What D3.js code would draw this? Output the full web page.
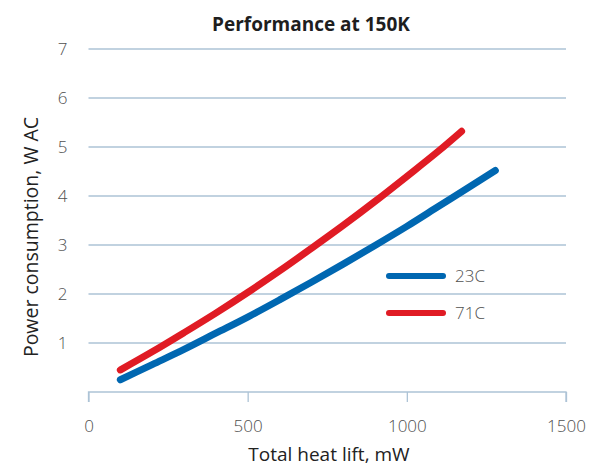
<!DOCTYPE html>
<html><head><meta charset="utf-8">
<script src="https://cdn.jsdelivr.net/npm/d3@7"></script>
<style>body{margin:0;background:#fff}svg{display:block}</style>
</head><body>
<svg id="c" width="611" height="466"></svg>
<script>
const title = "Performance at 150K";
const xLabel = "Total heat lift, mW";
const yLabel = "Power consumption, W AC";
const xTicks = [0, 500, 1000, 1500];
const yTicks = [1, 2, 3, 4, 5, 6, 7];
const seriesNames = ["23C", "71C"];
const heat23 = [100, 200, 300, 400, 500, 600, 700, 800, 900, 1000, 1100, 1200, 1278];
const power23 = [0.25, 0.56, 0.87, 1.20, 1.53, 1.88, 2.24, 2.61, 2.99, 3.38, 3.79, 4.20, 4.52];
const heat71 = [100, 200, 300, 400, 500, 600, 700, 800, 900, 1000, 1100, 1172];
const power71 = [0.45, 0.82, 1.21, 1.61, 2.03, 2.47, 2.93, 3.40, 3.89, 4.40, 4.92, 5.32];
const colors = ["#0067b1", "#e01b24"];

const svg = d3.select("#c");
const x = d3.scaleLinear().domain([0, 1500]).range([88.5, 566]);
const y = d3.scaleLinear().domain([0, 7]).range([392, 49]);
const font = "'Open Sans', 'Noto Sans', sans-serif";
const grid = "#adc3d6";
const tickColor = "#4f4f4f";

// gridlines
svg.append("g").selectAll("line").data(yTicks).join("line")
  .attr("x1", x(0)).attr("x2", x(1500))
  .attr("y1", d => y(d)).attr("y2", d => y(d))
  .attr("stroke", grid).attr("stroke-width", 1.3);

// x axis
const xa = svg.append("g").attr("transform", `translate(0,${y(0)})`)
  .call(d3.axisBottom(x).tickValues(xTicks).tickFormat(d3.format("d")).tickSize(10).tickPadding(18));
xa.select(".domain").attr("stroke", grid).attr("stroke-width", 1.3)
  .attr("d", `M${x(0)},10V0H${x(1500)}V10`);
xa.selectAll(".tick line").attr("stroke", grid).attr("stroke-width", 1.3);
xa.selectAll("text").attr("font-family", font).attr("font-size", 17).attr("fill", tickColor).attr("font-weight", 300);

// y tick labels
const ya = svg.append("g").attr("transform", `translate(${x(0)},0)`)
  .call(d3.axisLeft(y).tickValues(yTicks).tickFormat(d3.format("d")).tickSize(0).tickPadding(21));
ya.select(".domain").remove();
ya.selectAll("text").attr("font-family", font).attr("font-size", 17).attr("fill", tickColor).attr("font-weight", 300);

// lines
const line = d3.line().x(d => x(d[0])).y(d => y(d[1])).curve(d3.curveMonotoneX);
const data = [d3.zip(heat23, power23), d3.zip(heat71, power71)];
svg.append("g").selectAll("path").data(data).join("path")
  .attr("d", line).attr("fill", "none")
  .attr("stroke", (d, i) => colors[i]).attr("stroke-width", 7)
  .attr("stroke-linecap", "round").attr("stroke-linejoin", "round");

// legend
const lg = svg.append("g").selectAll("g").data(seriesNames).join("g")
  .attr("transform", (d, i) => `translate(389,${276 + i * 37})`);
lg.append("line").attr("x1", 0).attr("x2", 54).attr("stroke", (d, i) => colors[i])
  .attr("stroke-width", 6).attr("stroke-linecap", "round");
lg.append("text").attr("x", 66).attr("dy", "0.35em").text(d => d)
  .attr("font-family", font).attr("font-size", 17).attr("fill", tickColor).attr("font-weight", 300);

// title & labels
svg.append("text").attr("x", 311).attr("y", 31).attr("text-anchor", "middle")
  .attr("font-family", font).attr("font-size", 19).attr("font-weight", 700).attr("fill", "#1e1e1e").text(title);
svg.append("text").attr("x", 329).attr("y", 461).attr("text-anchor", "middle")
  .attr("font-family", font).attr("font-size", 19).attr("fill", "#222").text(xLabel);
svg.append("text").attr("transform", "translate(38,237) rotate(-90)").attr("text-anchor", "middle")
  .attr("font-family", font).attr("font-size", 19.5).attr("fill", "#222").text(yLabel);
</script>
</body></html>
